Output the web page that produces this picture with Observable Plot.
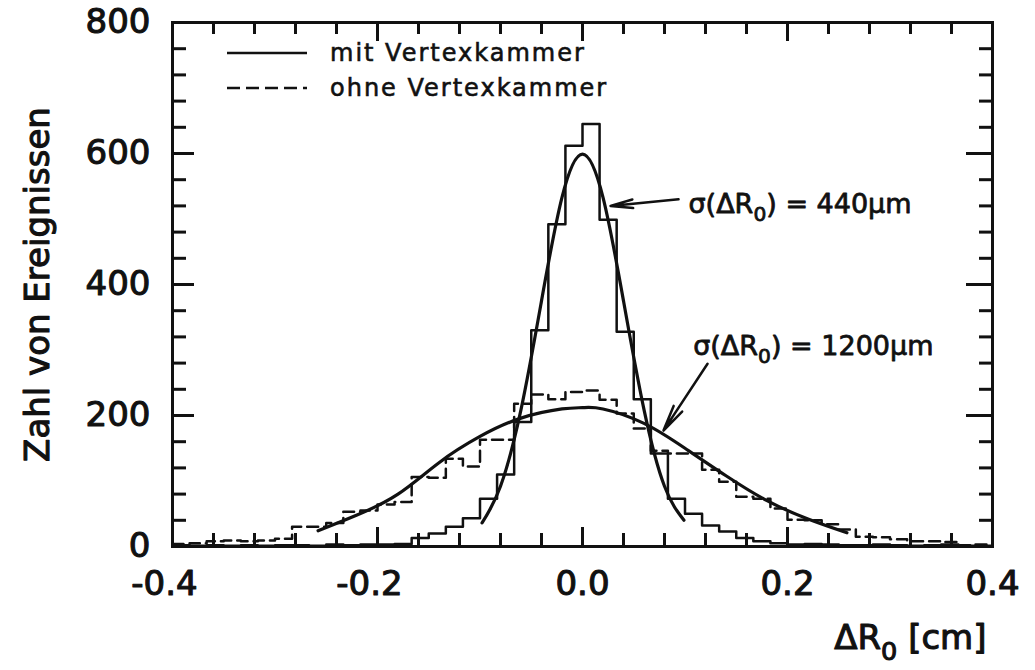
<!DOCTYPE html>
<html><head><meta charset="utf-8">
<script src="https://cdn.jsdelivr.net/npm/d3@7"></script>
<script src="https://cdn.jsdelivr.net/npm/@observablehq/plot@0.6"></script>
<style>
html,body{margin:0;padding:0;background:#fff;}
#chart svg{display:block;}
</style>
</head><body><div id="chart"></div>
<script>
// ---- data ----
const binLow = -0.4;
const binWidth = 1 / 60;          // 48 bins over [-0.4, 0.4]
const countsMit = [2,1,2,1,2,1,2,2,1,3,2,3,3,4,13,20,30,43,73,110,190,330,492,612,
                   645,499,328,225,142,73,50,32,23,13,8,5,3,4,3,2,2,3,2,1,2,3,1,1];
const countsOhne = [4,5,8,9,8,9,12,30,30,36,53,55,64,68,106,105,134,122,163,163,218,232,225,236,
                    238,224,203,180,146,142,142,117,99,76,73,58,41,40,34,26,15,14,11,8,8,7,2,3];
const fitMitX = [-0.098,-0.08,-0.06,-0.04,-0.02,0,0.02,0.04,0.06,0.08,0.099];
const fitMitY = [36,92,209,375,533,599,533,375,209,92,40];
const fitOhneX = [-0.258,-0.22,-0.18,-0.14,-0.10,-0.06,-0.02,0,0.02,0.06,0.10,0.14,0.18,0.22,0.258];
const fitOhneY = [24,48,80,128,168,196,210,212,210,188,150,108,70,42,21];
const xTicksMajor = [-0.4,-0.2,0,0.2,0.4];
const yTicksMajor = [0,200,400,600,800];
const legendLabels = ["mit Vertexkammer","ohne Vertexkammer"];
const sigmaLabels = ["σ(ΔR₀) = 440µm","σ(ΔR₀) = 1200µm"];
const sigmaLabelX = [0.1034, 0.108];
const sigmaLabelY = [523, 306];
const arrowX1 = [0.0937, 0.122], arrowY1 = [530, 279];
const arrowX2 = [0.0273, 0.079], arrowY2 = [520, 177];
const yLabel = "Zahl von Ereignissen";
const xLabel = "ΔR₀ [cm]";

// ---- derived tables ----
const edges = d3.range(countsMit.length + 1).map(i => binLow + i * binWidth);
const stepMit = edges.map((e, i) => ({x: e, y: countsMit[Math.min(i, countsMit.length - 1)]}));
const stepOhne = edges.map((e, i) => ({x: e, y: countsOhne[Math.min(i, countsOhne.length - 1)]}));
const fitMit = fitMitX.map((x, i) => ({x, y: fitMitY[i]}));
const fitOhne = fitOhneX.map((x, i) => ({x, y: fitOhneY[i]}));
const xTicksMinor = d3.range(0, 21).map(i => -0.4 + i * 0.04).filter(v => !xTicksMajor.some(m => Math.abs(m - v) < 1e-9));
const yTicksMinor = d3.range(0, 21).map(i => i * 40).filter(v => v % 200 !== 0);
const sigmas = sigmaLabels.map((t, i) => ({t, x: sigmaLabelX[i], y: sigmaLabelY[i]}));
const arrows = arrowX1.map((x1, i) => ({x1, y1: arrowY1[i], x2: arrowX2[i], y2: arrowY2[i]}));

const W = 1035, H = 670, mL = 172, mR = 43, mT = 22, mB = 124;
const iW = W - mL - mR, iH = H - mT - mB;
const font = "DejaVu Sans";
const ink = "#111";
const txt = {fill: ink, stroke: ink, strokeWidth: 1.1};
const axTxt = {fill: ink, textStroke: ink, textStrokeWidth: 1.1};

const chart = Plot.plot({
  width: W, height: H,
  marginLeft: mL, marginRight: mR, marginTop: mT, marginBottom: mB,
  x: {domain: [-0.4, 0.4]},
  y: {domain: [0, 800]},
  style: {fontFamily: font, background: "#fff", color: ink},
  marks: [
    Plot.frame({stroke: ink, strokeWidth: 3}),
    // inward ticks
    Plot.tickX(xTicksMinor, {x: d => d, insetTop: iH - 13, stroke: ink, strokeWidth: 3}),
    Plot.tickX(xTicksMajor, {x: d => d, insetTop: iH - 19, stroke: ink, strokeWidth: 3}),
    Plot.tickX(xTicksMinor, {x: d => d, insetBottom: iH - 12, stroke: ink, strokeWidth: 3}),
    Plot.tickX(xTicksMajor, {x: d => d, insetBottom: iH - 19, stroke: ink, strokeWidth: 3}),
    Plot.tickY(yTicksMinor, {y: d => d, insetRight: iW - 14, stroke: ink, strokeWidth: 3}),
    Plot.tickY(yTicksMajor, {y: d => d, insetRight: iW - 22, stroke: ink, strokeWidth: 3}),
    Plot.tickY(yTicksMinor, {y: d => d, insetLeft: iW - 13, stroke: ink, strokeWidth: 3}),
    Plot.tickY(yTicksMajor, {y: d => d, insetLeft: iW - 26, stroke: ink, strokeWidth: 3}),
    // tick labels
    Plot.axisX(xTicksMajor.filter(v => v < 0), {tickSize: 0, tickPadding: 24, dx: -8, tickFormat: d => d.toFixed(1), label: null, fontSize: 34, ...axTxt}),
    Plot.axisX(xTicksMajor.filter(v => v >= 0), {tickSize: 0, tickPadding: 24, tickFormat: d => d.toFixed(1), label: null, fontSize: 34, ...axTxt}),
    Plot.axisY(yTicksMajor, {tickSize: 0, tickPadding: 22, label: null, fontSize: 34, ...axTxt}),
    // histograms
    Plot.line(stepOhne, {x: "x", y: "y", curve: "step-after", stroke: ink, strokeWidth: 2.5, strokeDasharray: "11,6"}),
    Plot.line(stepMit, {x: "x", y: "y", curve: "step-after", stroke: ink, strokeWidth: 2.5}),
    // fits
    Plot.line(fitOhne, {x: "x", y: "y", curve: "natural", stroke: ink, strokeWidth: 3.2}),
    Plot.line(fitMit, {x: "x", y: "y", curve: "natural", stroke: ink, strokeWidth: 3.2}),
    // annotations
    Plot.arrow(arrows, {x1: "x1", y1: "y1", x2: "x2", y2: "y2", stroke: ink, strokeWidth: 2.5, headLength: 20, headAngle: 22}),
    Plot.text(sigmas, {x: "x", y: "y", text: "t", textAnchor: "start", lineAnchor: "middle", fontSize: 27, fill: ink, stroke: ink, strokeWidth: 0.8}),
    // axis titles
    Plot.text([yLabel], {frameAnchor: "left", dx: -134, rotate: -90, lineAnchor: "middle", textAnchor: "middle", fontSize: 34, ...txt}),
    Plot.text([xLabel], {frameAnchor: "bottom-right", dx: -6, dy: 92, textAnchor: "end", lineAnchor: "middle", fontSize: 34, ...txt})
  ]
});

// legend inside the frame (top-left)
const svg = d3.select(chart);
const lg = svg.append("g").attr("font-family", font).attr("font-size", 24).attr("fill", ink)
  .attr("text-anchor", "start");
legendLabels.forEach((lab, i) => {
  const yy = 53 + i * 35;
  lg.append("line").attr("x1", 227).attr("x2", 307).attr("y1", yy).attr("y2", yy)
    .attr("stroke", ink).attr("stroke-width", 2.5)
    .attr("stroke-dasharray", i === 1 ? "13,6" : null);
  lg.append("text").attr("x", 330).attr("y", yy).attr("dy", "0.35em")
    .attr("letter-spacing", "2px").attr("stroke", ink).attr("stroke-width", 0.6).text(lab);
});

// subscripts
svg.selectAll("text").each(function () {
  const t = this.textContent;
  if (!t.includes("₀")) return;
  const parts = t.split("₀");
  const sel = d3.select(this);
  sel.text(null);
  parts.forEach((p, i) => {
    if (i > 0) {
      sel.append("tspan").attr("dy", "0.4em").attr("font-size", "75%").text("0");
      sel.append("tspan").attr("dy", "-0.3em").text(p);
    } else sel.append("tspan").text(p);
  });
});

document.getElementById("chart").appendChild(chart);
</script>
</body></html>
